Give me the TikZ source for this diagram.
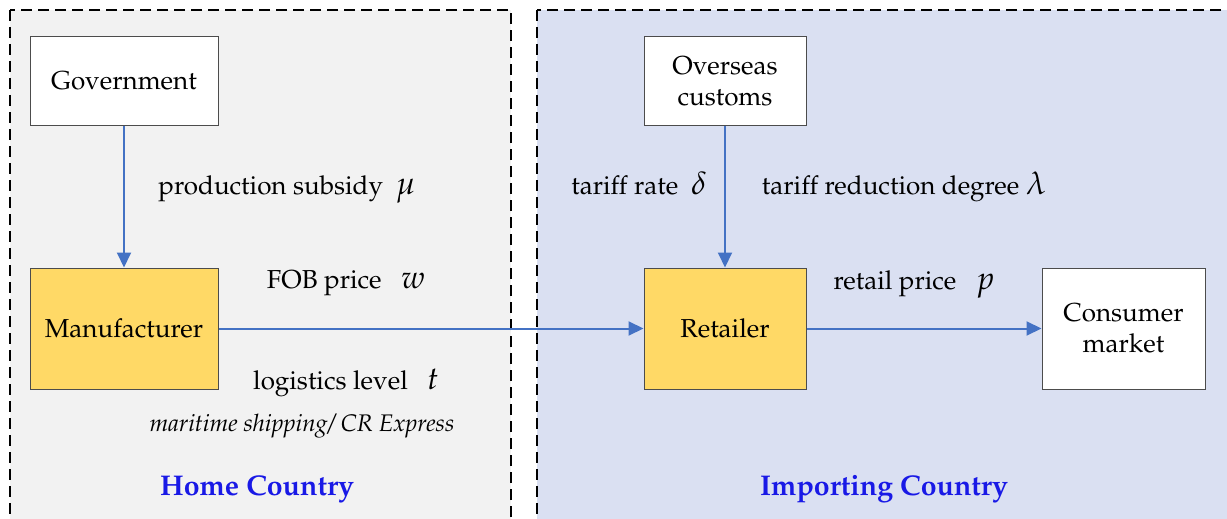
\documentclass[tikz,border=0pt]{standalone}
\usepackage[T1]{fontenc}
\usepackage{mathpazo}
\usetikzlibrary{arrows.meta}
\definecolor{homebg}{RGB}{242,242,242}
\definecolor{impbg}{RGB}{218,224,242}
\definecolor{boxyel}{RGB}{255,217,102}
\definecolor{arrblue}{RGB}{68,114,196}
\definecolor{lblblue}{RGB}{25,25,230}
\newcommand{\symvar}[1]{{\fontsize{32}{36}\selectfont$#1$}}
\tikzset{
  region/.style={draw=black, line width=1.6pt, dash pattern=on 11pt off 6pt},
  entity/.style={draw=black!70, line width=1pt, fill=white, minimum width=188pt, minimum height=88pt, align=center, inner sep=0pt},
  agent/.style={draw=black!70, line width=1pt, fill=boxyel, minimum width=188pt, minimum height=121pt, align=center, inner sep=0pt},
  flow/.style={draw=arrblue, line width=2pt, -{Triangle[length=15pt,width=14pt]}},
  lbl/.style={inner sep=0pt, anchor=base},
  title/.style={inner sep=0pt, text=lblblue, font=\bfseries\fontsize{28.5}{32}\selectfont}
}
\begin{document}
\begin{tikzpicture}[x=1pt,y=-1pt]
\fontsize{26}{31}\selectfont
\useasboundingbox (0,0) rectangle (1227,519);
\clip (0,0) rectangle (1227,519);
\draw[region, fill=homebg] (10,10) rectangle (511,540);
\draw[region, fill=impbg] (537,10) rectangle (1250,540);
\node[entity] (gov) at (124,81) {Government};
\node[agent] (man) at (124,328.5) {Manufacturer};
\node[entity, minimum width=162pt] (cus) at (725,81) {Overseas\\customs};
\node[agent, minimum width=162pt] (ret) at (725,328.5) {Retailer};
\node[entity, minimum width=163pt, minimum height=121pt] (con) at (1123.5,328.5) {Consumer\\market};
\draw[flow] (gov) -- (man);
\draw[flow] (man) -- (ret);
\draw[flow] (cus) -- (ret);
\draw[flow] (ret) -- (con);
\node[lbl] (ps) at (287,194) {production subsidy~~\symvar{\mu}};
\node[lbl] (fob) at (346,288) {FOB price~~~\symvar{w}};
\node[lbl] (log) at (346,389) {logistics level~~~\symvar{t}};
\node[lbl, font=\itshape\fontsize{24}{28}\selectfont] (mar) at (302,431) {maritime shipping/ CR Express};
\node[lbl] (tr) at (639,194) {tariff rate~~\symvar{\delta}};
\node[lbl] (trd) at (904,194) {tariff reduction degree~\symvar{\lambda}};
\node[lbl] (rp) at (914,289) {retail price~~~\symvar{p}};
\node[title] (home) at (257,489) {Home Country};
\node[title] (imp) at (884,489) {Importing Country};
\end{tikzpicture}
\end{document}
